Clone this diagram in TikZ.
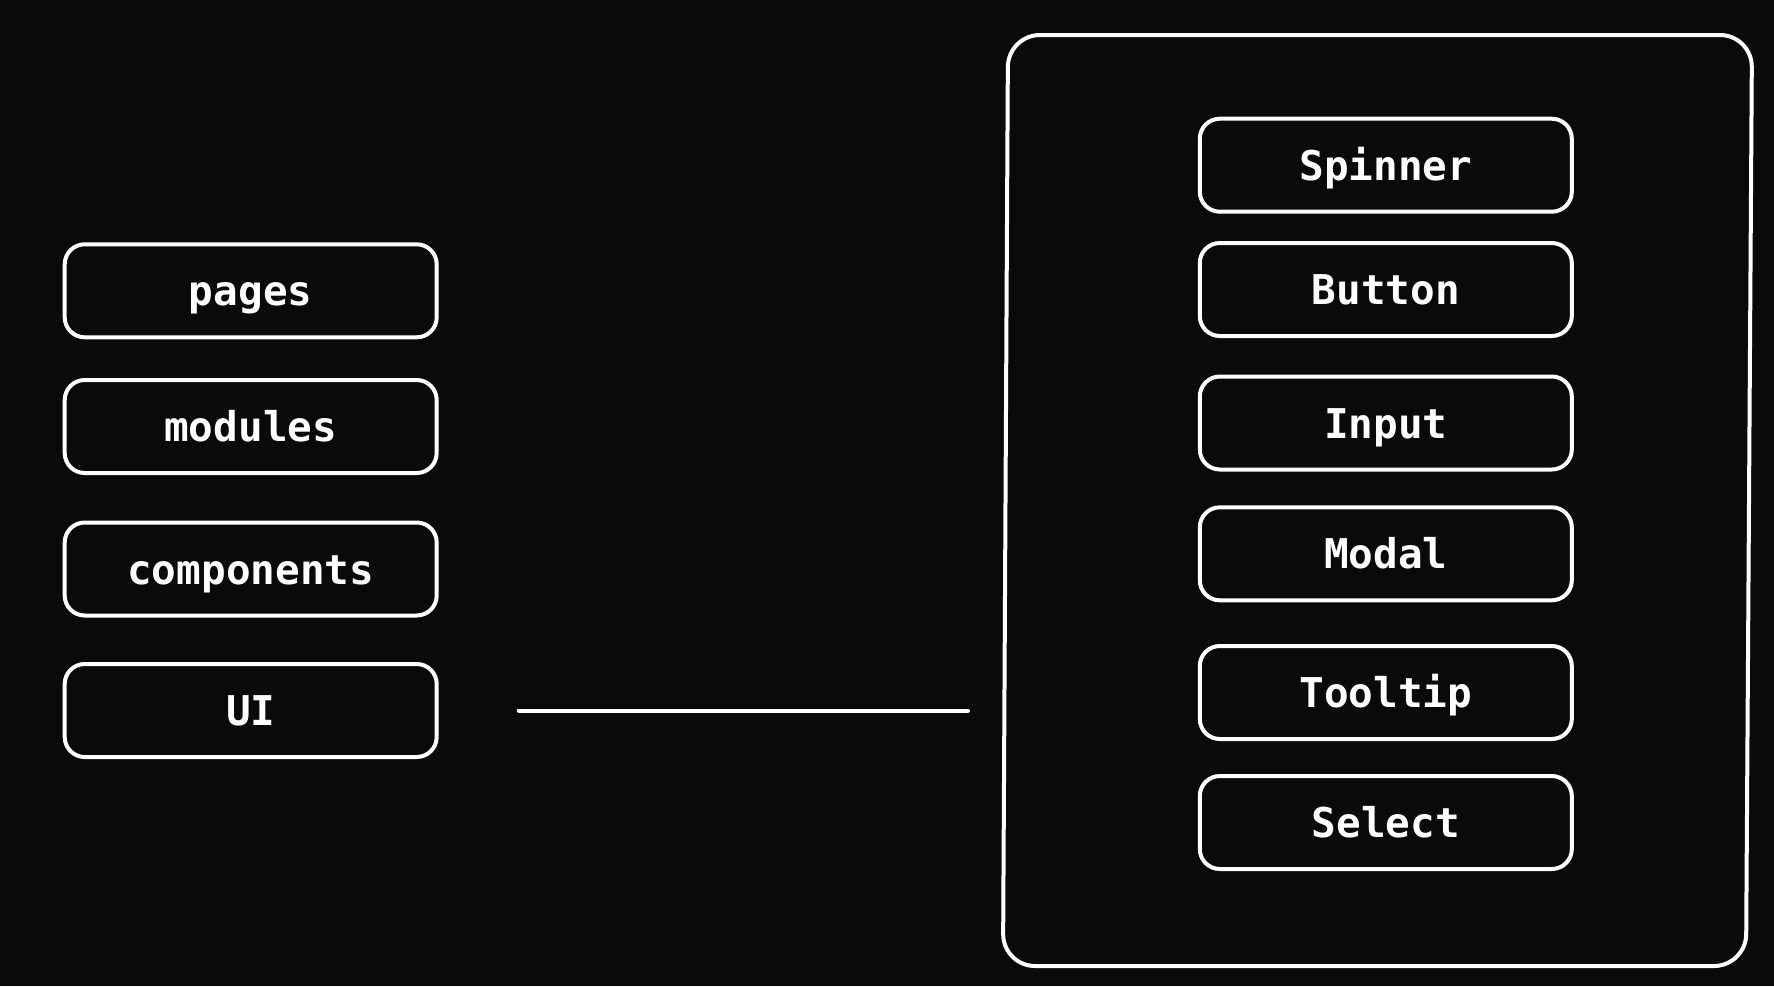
\documentclass[tikz,border=0pt]{standalone}
\usepackage{fontspec}
\setmonofont{DejaVu Sans Mono}
\definecolor{bg}{RGB}{10,10,10}
\begin{document}
\begin{tikzpicture}[x=1pt,y=-1pt,
  box/.style={draw=white, line width=4pt, rounded corners=20pt, fill=bg,
    minimum width=372pt, minimum height=93pt, text=white,
    font=\ttfamily\bfseries\fontsize{41}{48}\selectfont,
    text height=30pt, text depth=0pt, inner sep=0pt},
  link/.style={draw=white, line width=4pt, line cap=round}]
\fill[bg] (0,0) rectangle (1774,986);
\useasboundingbox (0,0) rectangle (1774,986);
% container
\draw[white, line width=4pt, rounded corners=32pt]
  (1008,35) -- (1752,35) -- (1746,966) -- (1003,966) -- cycle;
\coordinate (cl) at (1004,710.5);
% left column
\node[box] (pages) at (250.7,290.8) {pages};
\node[box] (modules) at (250.7,426.5) {modules};
\node[box] (components) at (250.7,569) {components};
\node[box] (ui) at (250.7,710.5) {UI};
% right column
\node[box] (spinner) at (1385.8,165.2) {Spinner};
\node[box] (button) at (1385.8,289.5) {Button};
\node[box] (input) at (1385.8,423) {Input};
\node[box] (modal) at (1385.8,553.8) {Modal};
\node[box] (tooltip) at (1385.8,692.5) {Tooltip};
\node[box] (select) at (1385.8,822.5) {Select};
% connector
\draw[link, shorten <=80pt, shorten >=36pt] (ui.east) -- (cl);
\end{tikzpicture}
\end{document}
